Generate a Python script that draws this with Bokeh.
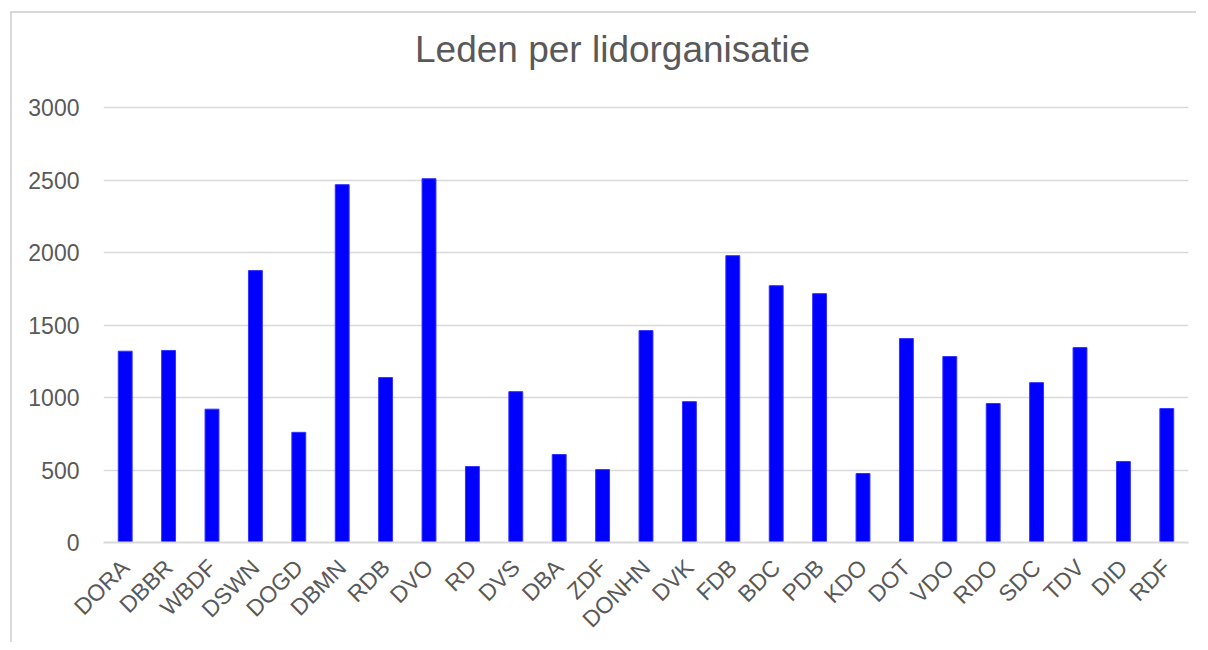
import math
from bokeh.plotting import figure
from bokeh.models import ColumnDataSource, FixedTicker, Range1d, Label
from bokeh.embed import file_html
from bokeh.resources import INLINE

title_text = "Leden per lidorganisatie"
categories = ["DORA", "DBBR", "WBDF", "DSWN", "DOGD", "DBMN", "RDB", "DVO", "RD", "DVS",
              "DBA", "ZDF", "DONHN", "DVK", "FDB", "BDC", "PDB", "KDO", "DOT", "VDO",
              "RDO", "SDC", "TDV", "DID", "RDF"]
members = [1320, 1325, 920, 1876, 760, 2469, 1138, 2510, 524, 1041,
           607, 503, 1462, 972, 1979, 1772, 1717, 476, 1407, 1283,
           959, 1103, 1345, 559, 924]
y_ticks = [0, 500, 1000, 1500, 2000, 2500, 3000]

source = ColumnDataSource(data=dict(cat=categories, val=members))

# headroom above 3000 leaves room for the title inside the (invisible) frame
p = figure(x_range=categories, y_range=Range1d(0, 3650), width=1186, height=631,
           output_backend="svg", toolbar_location=None)
p.margin = (11, 0, 0, 10)
p.styles = {"border-left": "2px solid #d9d9d9", "border-top": "2px solid #d9d9d9"}

p.vbar(x="cat", top="val", width=0.32, source=source,
       fill_color="#0000FF", line_color="#3333ff", line_width=1)

p.min_border_left = 91
p.min_border_right = 10
p.min_border_top = 0
p.min_border_bottom = 100

title = Label(x=509, y=3400, x_units="screen", y_units="data", text=title_text,
              text_font="Liberation Sans", text_font_size="37px", text_color="#595959",
              text_align="center", text_baseline="alphabetic")
p.add_layout(title)

p.outline_line_color = None
p.background_fill_color = "white"
p.border_fill_color = "white"

p.xgrid.grid_line_color = None
p.ygrid.grid_line_color = "#d9d9d9"
p.ygrid.grid_line_width = 1.5

p.yaxis.ticker = FixedTicker(ticks=y_ticks)
p.yaxis.axis_line_color = None
p.yaxis.major_tick_line_color = None
p.yaxis.minor_tick_line_color = None
p.yaxis.major_label_text_font = "Liberation Sans"
p.yaxis.major_label_text_font_size = "23px"
p.yaxis.major_label_text_color = "#595959"
p.yaxis.major_label_standoff = 18

p.xaxis.axis_line_color = "#d9d9d9"
p.xaxis.axis_line_width = 2
p.xaxis.major_tick_line_color = None
p.xaxis.minor_tick_line_color = None
p.xaxis.major_label_orientation = math.pi / 4
p.xaxis.major_label_text_font = "Liberation Sans"
p.xaxis.major_label_text_font_size = "23px"
p.xaxis.major_label_text_color = "#595959"
p.xaxis.major_label_standoff = 15

open("out.html", "w").write(file_html(p, INLINE))
